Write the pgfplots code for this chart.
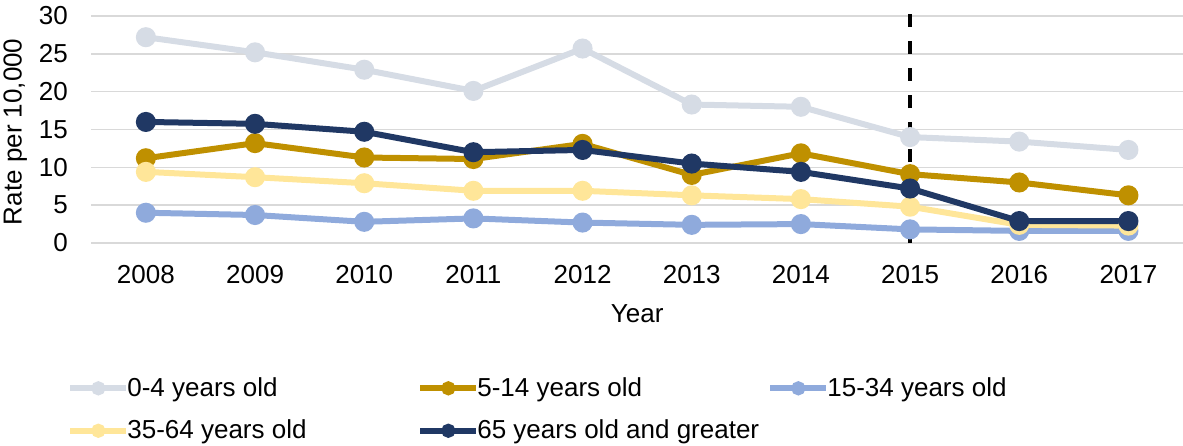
\documentclass[border=0pt]{standalone}
\usepackage{fontspec}
\setmainfont{Liberation Sans}
\usepackage{pgfplots}
\pgfplotsset{compat=1.18}
\definecolor{cA}{HTML}{D6DCE5}
\definecolor{cB}{HTML}{BF9000}
\definecolor{cC}{HTML}{8FAADC}
\definecolor{cD}{HTML}{FFE699}
\definecolor{cE}{HTML}{203864}
\definecolor{gridc}{HTML}{D9D9D9}
\newcommand{\ff}{\fontsize{13}{15.6}\selectfont}
\begin{document}
\begin{tikzpicture}
\path[use as bounding box] (0,0) rectangle (591.5pt,222.5pt);
\begin{axis}[
  at={(45.65pt,101pt)}, anchor=south west,
  scale only axis, width=545.85pt, height=113.5pt,
  xmin=-0.5, xmax=9.5, ymin=0, ymax=30,
  xtick={0,1,2,3,4,5,6,7,8,9},
  xticklabels={2008,2009,2010,2011,2012,2013,2014,2015,2016,2017},
  ytick={0,5,10,15,20,25,30},
  ymajorgrids, major grid style={draw=gridc, line width=0.75pt},
  axis line style={draw=none},
  major tick length=0pt, tick style={draw=none},
  /pgf/number format/assume math mode=true,
  tick label style={font=\ff},
  yticklabel style={anchor=east, inner sep=0pt, xshift=-11.5pt},
  xticklabel style={anchor=north, inner sep=0pt, yshift=-11pt},
  xlabel={Year},
  xlabel style={font=\ff, at={(axis description cs:0.5,0)}, anchor=north, inner sep=0pt, yshift=-30.5pt},
  ylabel={Rate per 10,000},
  ylabel style={font=\ff, at={(axis description cs:-0.0696,0.49)}, anchor=center, inner sep=0pt},
  clip=false,
  every axis plot/.append style={line width=3pt, mark=*, mark size=3.5pt},
  legend columns=3,
  legend style={font=\ff, draw=none, fill=none, at={(axis description cs:-0.0223,-0.5727)}, anchor=north west,
    inner sep=0pt, column sep=0pt, row sep=6.3pt, cells={anchor=west, inner sep=0pt}},
  legend image code/.code={\draw[mark repeat=2,mark phase=2,#1, mark size=2pt] plot coordinates {(0pt,0pt) (14pt,0pt) (28pt,0pt)};},
]
\addplot[color=cA, mark options={fill=cA, draw=cA}] coordinates {(0,27.2) (1,25.2) (2,22.9) (3,20.1) (4,25.7) (5,18.3) (6,18.0) (7,14.0) (8,13.4) (9,12.3)};
\addlegendentry{\makebox[140pt][l]{\hspace{-3pt}0-4 years old}}
\addplot[color=cB, mark options={fill=cB, draw=cB}] coordinates {(0,11.2) (1,13.2) (2,11.3) (3,11.1) (4,13.1) (5,9.0) (6,11.85) (7,9.1) (8,8.0) (9,6.3)};
\addlegendentry{\makebox[140pt][l]{\hspace{-3pt}5-14 years old}}
\addplot[color=cC, mark options={fill=cC, draw=cC}] coordinates {(0,4.0) (1,3.7) (2,2.8) (3,3.25) (4,2.7) (5,2.4) (6,2.5) (7,1.8) (8,1.6) (9,1.6)};
\addlegendentry{\makebox[140pt][l]{\hspace{-3pt}15-34 years old}}
\addplot[color=cD, mark options={fill=cD, draw=cD}] coordinates {(0,9.4) (1,8.7) (2,7.9) (3,6.9) (4,6.9) (5,6.3) (6,5.8) (7,4.8) (8,2.4) (9,2.3)};
\addlegendentry{\makebox[140pt][l]{\hspace{-3pt}35-64 years old}}
\addplot[color=cE, mark options={fill=cE, draw=cE}] coordinates {(0,16.0) (1,15.75) (2,14.7) (3,12.0) (4,12.3) (5,10.5) (6,9.4) (7,7.2) (8,2.9) (9,2.9)};
\addlegendentry{\makebox[140pt][l]{\hspace{-3pt}65 years old and greater}}
\draw[black, line width=1.75pt, dash pattern=on 6.5pt off 7pt] (axis cs:7,0) -- (axis cs:7,30.57);
\end{axis}
\end{tikzpicture}
\end{document}
